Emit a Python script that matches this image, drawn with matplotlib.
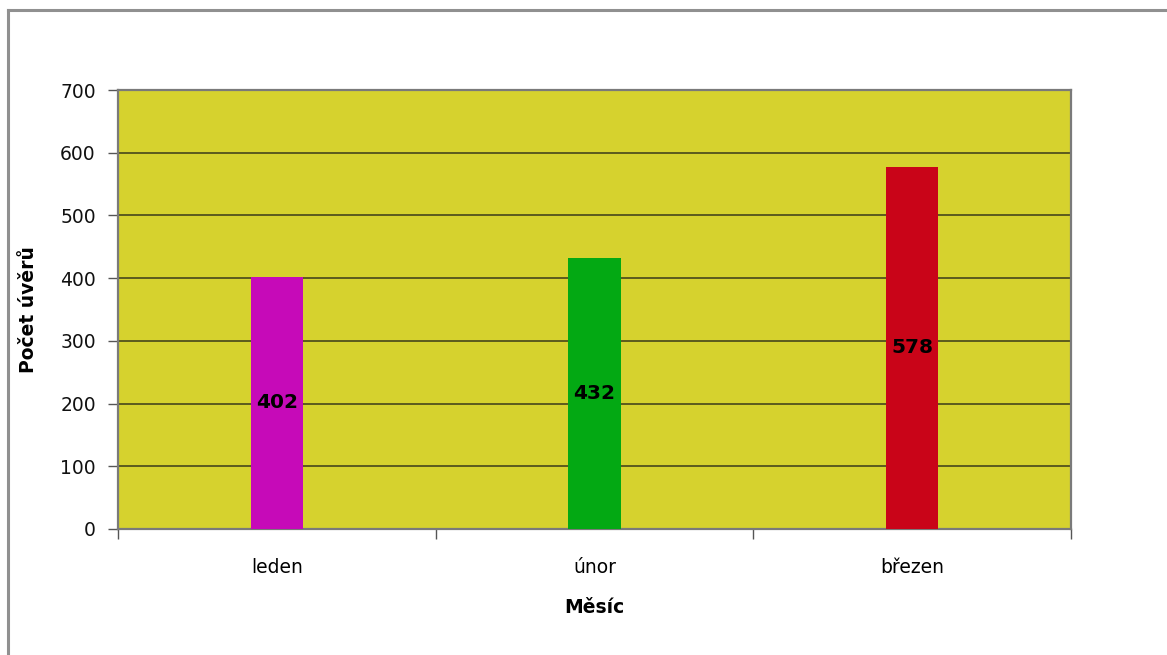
import matplotlib
matplotlib.use("Agg")
import matplotlib.pyplot as plt
from matplotlib.lines import Line2D
import numpy as np

months = ["leden", "únor", "březen"]
loans = [402, 432, 578]
bar_colors = ["#c60ab8", "#03a913", "#c90418"]
y_ticks = [0, 100, 200, 300, 400, 500, 600, 700]

plt.rcParams["font.family"] = ["DejaVu Sans"]

W, H = 1167, 655
fig = plt.figure(figsize=(W / 100, H / 100), dpi=100)
fig.patch.set_facecolor("white")

# outer chart-area frame (top and left edges visible)
fig.add_artist(Line2D([8 / W, 8 / W], [0, 1 - 9.5 / H], transform=fig.transFigure,
                      color="#909090", lw=2.2))
fig.add_artist(Line2D([8 / W, 1], [1 - 9.5 / H, 1 - 9.5 / H], transform=fig.transFigure,
                      color="#909090", lw=2.2))

left, right, top, bottom = 118 / W, 1071 / W, 1 - 90 / H, 1 - 529 / H
ax = fig.add_axes([left, bottom, right - left, top - bottom])
ax.set_facecolor("#d6d22e")

x = np.arange(len(months))
ax.bar(x, loans, width=0.165, color=bar_colors, zorder=3)

for xi, v in zip(x, loans):
    ax.text(xi, v / 2, str(v), ha="center", va="center", fontsize=14.5,
            fontweight="bold", color="black", zorder=4)

ax.set_xlim(-0.5, len(months) - 0.5)
ax.set_ylim(0, 700)
ax.set_yticks(y_ticks)
ax.set_yticklabels([str(t) for t in y_ticks], fontsize=13.5, color="#111111")
ax.yaxis.grid(True, color="#3a3a1a", lw=1.1, zorder=1)
ax.set_axisbelow(True)

# category labels centred, ticks on boundaries
ax.set_xticks(x)
ax.set_xticklabels(months, fontsize=13.5)
ax.tick_params(axis="x", which="major", length=0, pad=21)
ax.set_xticks(np.arange(-0.5, len(months)), minor=True)
ax.tick_params(axis="x", which="minor", length=7, width=1, color="#555555", direction="out")
ax.tick_params(axis="y", length=7, width=1, color="#555555", pad=9)

for side, sp in ax.spines.items():
    sp.set_color("#7a7a7a")
    sp.set_linewidth(1.6)

ax.set_xlabel("Měsíc", fontsize=13.5, fontweight="bold", labelpad=15)
ax.set_ylabel("Počet úvěrů", fontsize=13.5, fontweight="bold", labelpad=16)

fig.savefig("out.png", dpi=100, facecolor="white")
